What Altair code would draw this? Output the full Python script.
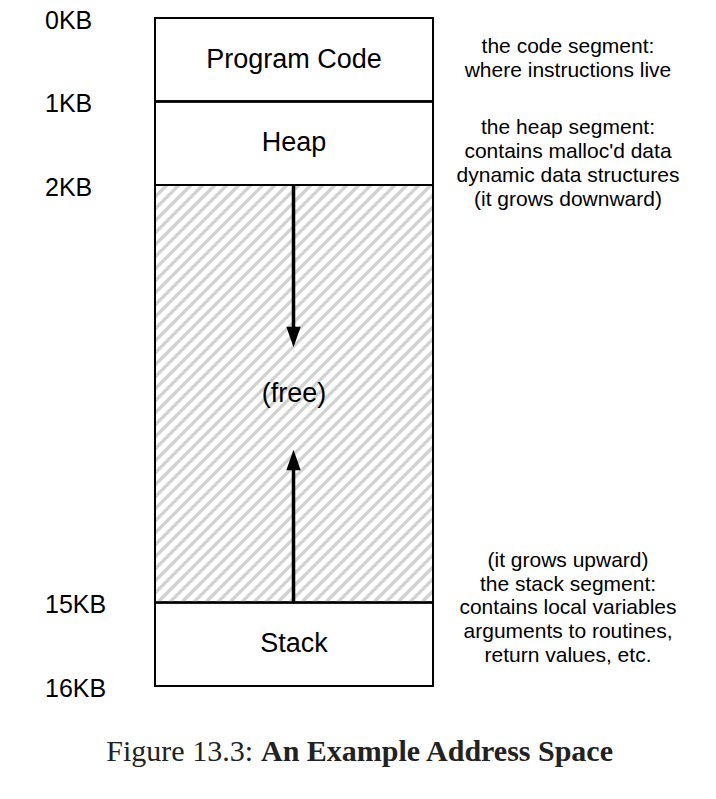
import altair as alt
import pandas as pd

# segment boundaries (row units on the diagram) and labels
bounds_kb = ["0KB", "1KB", "2KB", "15KB", "16KB"]
bounds_row = [0, 1, 2, 7, 8]
seg_names = ["Program Code", "Heap", "(free)", "Stack"]
notes = [
    ["the code segment:", "where instructions live"],
    ["the heap segment:", "contains malloc'd data", "dynamic data structures", "(it grows downward)"],
    ["(it grows upward)", "the stack segment:", "contains local variables", "arguments to routines,", "return values, etc."],
]
note_top = [0.35, 1.32, 6.5]

W, H = 700, 783
PX = 83.5          # pixels per row
TOP = 10           # pixel of row 0
BX0, BX1 = 147, 425


def row(px):
    return (px - TOP) / PX


X = alt.X("x:Q", scale=alt.Scale(domain=[0, W]), axis=None)
Y = alt.Y("y:Q", scale=alt.Scale(domain=[row(0), row(H)], reverse=True), axis=None)
X2, Y2 = alt.X2("x2:Q"), alt.Y2("y2:Q")

segs = pd.DataFrame({
    "x": BX0, "x2": BX1,
    "y": bounds_row[:-1], "y2": bounds_row[1:],
    "name": seg_names,
})

# hatching for the free region, clipped to it
fy0, fy1 = TOP + 2 * PX, TOP + 7 * PX
hatch = []
c = BX0 + fy0
while c < BX1 + fy1:
    pts = []
    for xx in (BX0, BX1):
        yy = c - xx
        if fy0 <= yy <= fy1:
            pts.append((xx, yy))
    for yy in (fy0, fy1):
        xx = c - yy
        if BX0 <= xx <= BX1:
            pts.append((xx, yy))
    if len(pts) >= 2:
        (a, b), (d, e) = pts[0], pts[-1]
        hatch.append({"x": a, "y": row(b), "x2": d, "y2": row(e)})
    c += 12
hatch_df = pd.DataFrame(hatch)

hatch_layer = alt.Chart(hatch_df).mark_rule(color="#d2d2d2", strokeWidth=3.2).encode(X, Y, X2, Y2)
boxes = alt.Chart(segs).mark_rect(fill="white", stroke="black", strokeWidth=2).transform_filter(
    "datum.name != '(free)'").encode(X, Y, X2, Y2)
free_border = alt.Chart(segs).mark_rect(fill=None, stroke="black", strokeWidth=2).encode(X, Y, X2, Y2)

seg_text = alt.Chart(segs).transform_calculate(
    cx="(datum.x + datum.x2) / 2", cy="(datum.y + datum.y2) / 2"
).mark_text(font="Liberation Sans", fontSize=27, color="black").encode(
    x=alt.X("cx:Q", scale=alt.Scale(domain=[0, W]), axis=None),
    y=alt.Y("cy:Q", scale=alt.Scale(domain=[row(0), row(H)], reverse=True), axis=None),
    text="name:N",
)

kb_df = pd.DataFrame({"x": 37, "y": [r + 0.03 for r in bounds_row], "t": bounds_kb})
kb_text = alt.Chart(kb_df).mark_text(font="Liberation Sans", fontSize=25, align="left").encode(X, Y, text="t:N")

note_rows = []
for top, lines in zip(note_top, notes):
    for i, ln in enumerate(lines):
        note_rows.append({"x": 560, "y": top + i * 23.8 / PX, "t": ln})
note_text = alt.Chart(pd.DataFrame(note_rows)).mark_text(
    font="Liberation Sans", fontSize=21).encode(X, Y, text="t:N")

# arrows
ax = (BX0 + BX1) / 2 - 0.5
shafts = pd.DataFrame({"x": ax, "x2": ax, "y": [2, 7], "y2": [row(322), row(460)]})
shaft_layer = alt.Chart(shafts).mark_rule(color="black", strokeWidth=3.5).encode(X, Y, X2, Y2)
heads = pd.DataFrame({"x": ax, "y": [row(329), row(452)], "dir": ["down", "up"]})
head_down = alt.Chart(heads).transform_filter("datum.dir == 'down'").mark_point(
    shape="M-0.7,-1L0.7,-1L0,1Z", size=420, filled=True, color="black", opacity=1).encode(X, Y)
head_up = alt.Chart(heads).transform_filter("datum.dir == 'up'").mark_point(
    shape="M-0.7,1L0.7,1L0,-1Z", size=420, filled=True, color="black", opacity=1).encode(X, Y)

cap = pd.DataFrame({"x": [245, 247], "y": row(744), "t": ["Figure 13.3:", "An Example Address Space"],
                    "w": ["normal", "bold"]})
cap1 = alt.Chart(cap).transform_filter("datum.w == 'normal'").mark_text(
    font="Liberation Serif", fontSize=30, align="right", color="#222").encode(X, Y, text="t:N")
cap2 = alt.Chart(cap).transform_filter("datum.w == 'bold'").mark_text(
    font="Liberation Serif", fontSize=30, align="left", fontWeight="bold", dx=6, color="#222").encode(X, Y, text="t:N")

chart = alt.layer(
    boxes, hatch_layer, free_border, shaft_layer, head_down, head_up,
    seg_text, kb_text, note_text, cap1, cap2,
).properties(width=W, height=H, padding=0, autosize="none").configure_view(stroke=None)

chart.save("out.html", embed_options={"renderer": "svg", "actions": False})
